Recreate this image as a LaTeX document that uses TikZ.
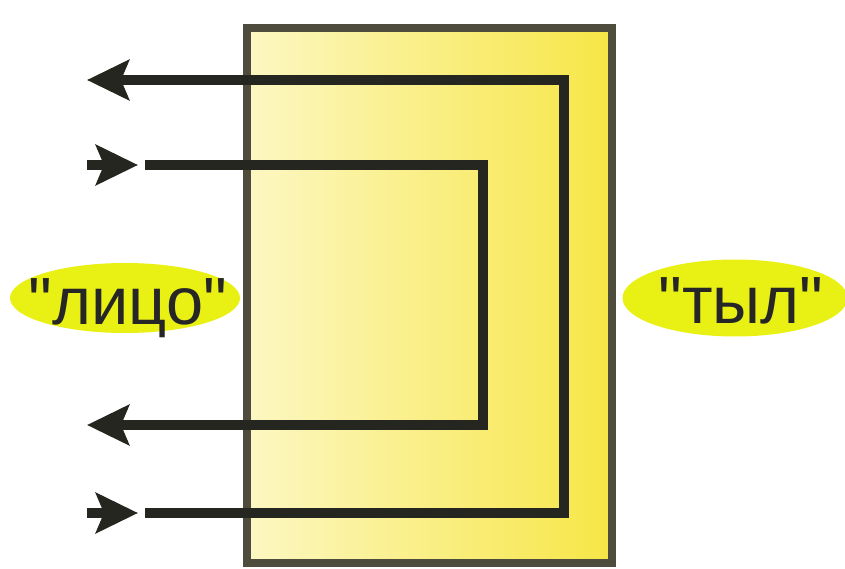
\documentclass[tikz,border=0pt]{standalone}
\usepackage{fontspec}
\setmainfont{Liberation Sans}[Ligatures=TeXOff]
\usetikzlibrary{arrows.meta,shapes.geometric}

\definecolor{boxlight}{RGB}{252,247,195}
\definecolor{boxdeep}{RGB}{247,230,70}
\definecolor{boxedge}{RGB}{78,76,60}
\definecolor{wirecol}{RGB}{38,38,32}
\definecolor{blobcol}{RGB}{232,240,20}

\tikzset{
  wire/.style={line width=2.85pt, draw=wirecol},
  tip/.style={-{Stealth[length=4.2mm,width=4mm,inset=0.8mm]}},
  tipback/.style={{Stealth[length=4.2mm,width=4mm,inset=0.8mm]}-},
  blob/.style={ellipse, fill=blobcol, inner sep=0pt},
  sidetext/.style={anchor=base, inner sep=0pt, text=black!85, font=\fontsize{19}{21}\selectfont}
}

\begin{document}
\begin{tikzpicture}
  \useasboundingbox (0,0) rectangle (8.45,5.68);
  % the block
  \shade[left color=boxlight, right color=boxdeep] (2.47,0.05) rectangle (6.12,5.40);
  \draw[line width=2.5pt, boxedge] (2.47,0.05) rectangle (6.12,5.40);
  % outer loop
  \coordinate (o-out)  at (0.87,4.88);
  \coordinate (o-top)  at (5.64,4.88);
  \coordinate (o-bot)  at (5.64,0.55);
  \coordinate (o-in)   at (1.45,0.55);
  \coordinate (o-tail) at (0.87,0.55);
  \coordinate (o-tip)  at (1.38,0.55);
  % inner loop
  \coordinate (i-tail) at (0.87,4.03);
  \coordinate (i-tip)  at (1.38,4.03);
  \coordinate (i-in)   at (1.45,4.03);
  \coordinate (i-top)  at (4.83,4.03);
  \coordinate (i-bot)  at (4.83,1.43);
  \coordinate (i-out)  at (0.87,1.43);

  \draw[wire, tipback] (o-out) -- (o-top) -- (o-bot) -- (o-in);
  \draw[wire, tip] (o-tail) -- (o-tip);
  \draw[wire, tip] (i-tail) -- (i-tip);
  \draw[wire, tip] (i-in) -- (i-top) -- (i-bot) -- (i-out);
  % sides
  \node[blob, minimum width=2.3cm, minimum height=0.70cm] (face) at (1.25,2.70) {};
  \node[blob, minimum width=2.25cm, minimum height=0.77cm] (back) at (7.35,2.70) {};
  \node[sidetext] (face-txt) at (1.28,2.44) {"лицо"};
  \node[sidetext] (back-txt) at (7.41,2.45) {"тыл"};
\end{tikzpicture}
\end{document}
